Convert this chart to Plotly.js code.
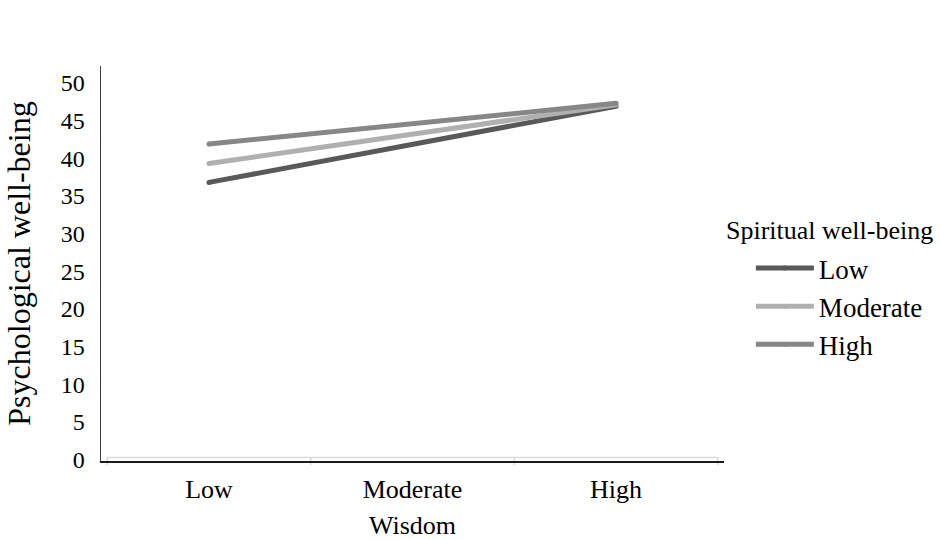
<!DOCTYPE html>
<html>
<head>
<meta charset="utf-8">
<script src="https://cdn.plot.ly/plotly-3.0.1.min.js"></script>
<style>
  html, body { margin: 0; padding: 0; background: #ffffff; }
  #chart { width: 940px; height: 540px; }
</style>
</head>
<body>
<div id="chart"></div>
<script>
// ---- Data ----
var wisdomLevels = ["Low", "Moderate", "High"];
var seriesNames = ["Low", "Moderate", "High"];
var lowSWB = [36.8, null, 46.9];
var moderateSWB = [39.3, null, 47.1];
var highSWB = [41.9, null, 47.3];
var yTickValues = [0, 5, 10, 15, 20, 25, 30, 35, 40, 45, 50];
var legendTitle = "Spiritual well-being";

// ---- Styles ----
var seriesColors = ["#595959", "#b0b0b0", "#878787"];
var seriesValues = [lowSWB, moderateSWB, highSWB];
var FONT = "Liberation Serif";

var traces = seriesValues.map(function (vals, i) {
  return {
    type: "scatter",
    mode: "lines+markers",
    name: seriesNames[i],
    x: wisdomLevels,
    y: vals,
    connectgaps: true,
    line: { color: seriesColors[i], width: 5 },
    marker: { color: seriesColors[i], size: 5, symbol: "circle" },
    hoverinfo: "x+y+name"
  };
});

// light-grey category box along the x axis (boundaries between categories)
var boxPath = "";
var yTop = 0.0089, yBot = -0.0101;
boxPath += "M" + (-0.5) + "," + yTop + " L" + (wisdomLevels.length - 0.5) + "," + yTop;
for (var b = 0; b <= wisdomLevels.length; b++) {
  var xb = b - 0.5;
  boxPath += " M" + xb + "," + yTop + " L" + xb + "," + yBot;
}

var layout = {
  width: 940,
  height: 540,
  paper_bgcolor: "#ffffff",
  plot_bgcolor: "#ffffff",
  margin: { l: 101, r: 213, t: 66, b: 79 },
  font: { family: FONT, color: "#000000", size: 24 },
  showlegend: true,
  xaxis: {
    type: "category",
    categoryorder: "array",
    categoryarray: wisdomLevels,
    range: [-0.5306, 2.5306],
    showgrid: false,
    zeroline: false,
    showline: true,
    linecolor: "#1a1a1a",
    linewidth: 1.5,
    ticks: "",
    ticklabelstandoff: 4,
    tickfont: { family: FONT, size: 26, color: "#000000" },
    title: { text: "Wisdom", font: { family: FONT, size: 26, color: "#000000" }, standoff: 16 },
    fixedrange: true
  },
  yaxis: {
    range: [-0.2, 52.26],
    tickmode: "array",
    tickvals: yTickValues,
    ticktext: yTickValues.map(String),
    showgrid: false,
    zeroline: false,
    showline: true,
    linecolor: "#404040",
    linewidth: 1.5,
    ticks: "",
    ticklabelstandoff: 10,
    tickfont: { family: FONT, size: 24, color: "#000000" },
    title: { text: "Psychological well-being", font: { family: FONT, size: 32, color: "#000000" }, standoff: 20 },
    fixedrange: true
  },
  legend: {
    x: (754 - 101) / 626,
    xanchor: "left",
    y: (461 - 244) / 395,
    yanchor: "top",
    bgcolor: "rgba(0,0,0,0)",
    borderwidth: 0,
    font: { family: FONT, size: 27, color: "#000000" },
    itemwidth: 58,
    tracegroupgap: 0
  },
  annotations: [{
    text: legendTitle,
    xref: "paper",
    yref: "paper",
    x: (727 - 101) / 626,
    y: (461 - 230) / 395,
    xanchor: "left",
    yanchor: "middle",
    showarrow: false,
    font: { family: FONT, size: 26, color: "#000000" }
  }],
  shapes: [{
    type: "path",
    xref: "x",
    yref: "paper",
    path: boxPath,
    line: { color: "#d9d9d9", width: 1.5 },
    layer: "below"
  }]
};

Plotly.newPlot("chart", traces, layout, { displayModeBar: false, staticPlot: true });
</script>
</body>
</html>
